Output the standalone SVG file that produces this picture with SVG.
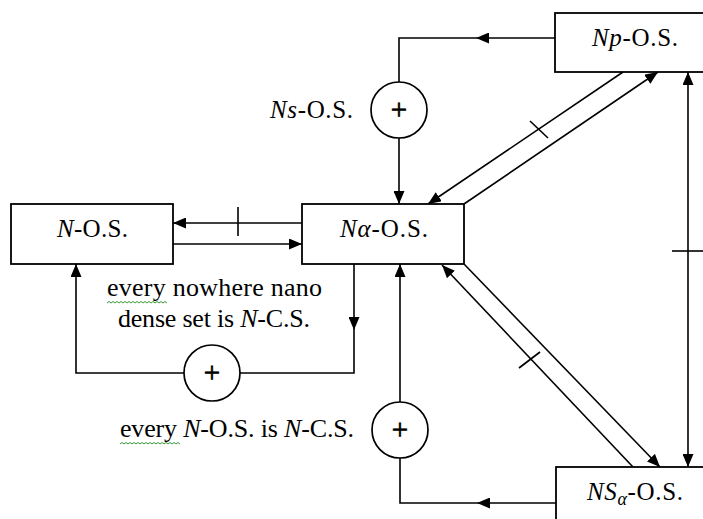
<svg xmlns="http://www.w3.org/2000/svg" width="703" height="519" viewBox="0 0 703 519">
<defs>
<marker id="ah" markerUnits="userSpaceOnUse" markerWidth="13" markerHeight="11" refX="13" refY="5.5" orient="auto">
<path d="M0,0 L13,5.5 L0,11 z" fill="#000"/>
</marker>
<style>
.box{fill:#fff;stroke:#000;stroke-width:1.8}
.ln{fill:none;stroke:#000;stroke-width:1.6}
.arr{fill:none;stroke:#000;stroke-width:1.6;marker-end:url(#ah)}
.circ{fill:#fff;stroke:#000;stroke-width:1.7}
.t{font-family:"Liberation Serif","Times New Roman",serif;font-size:25px;fill:#000}
.p{font-family:"Liberation Serif","Times New Roman",serif;font-size:26px;fill:#000}
.plus{font-family:"Liberation Serif","Times New Roman",serif;font-size:29px;fill:#000;stroke:#000;stroke-width:0.7;text-anchor:middle}
.i{font-style:italic}
.sq{fill:none;stroke:#3a9a3a;stroke-width:1}
</style>
</defs>
<rect width="703" height="519" fill="#fff"/>

<g id="connectors">
<line class="arr" x1="302" y1="223" x2="173" y2="223"/>
<line class="ln" x1="238" y1="207" x2="238" y2="236"/>
<line class="arr" x1="173" y1="244" x2="302" y2="244"/>
<line class="arr" x1="354" y1="264" x2="354" y2="330"/>
<polyline class="ln" points="354,330 354,373 240,373"/>
<polyline class="ln" points="184,373 76,373 76,300"/>
<line class="arr" x1="76" y1="300" x2="76" y2="264"/>
<line class="arr" x1="555" y1="38" x2="476" y2="38"/>
<polyline class="ln" points="476,38 399,38 399,82"/>
<line class="arr" x1="399" y1="138" x2="399" y2="204"/>
<line class="arr" x1="623" y1="72" x2="428" y2="204"/>
<line class="ln" x1="530" y1="121" x2="548" y2="138"/>
<line class="arr" x1="464" y1="204" x2="658" y2="72"/>
<line class="arr" x1="688" y1="270" x2="688" y2="72"/>
<line class="arr" x1="688" y1="270" x2="688" y2="467"/>
<line class="ln" x1="672" y1="251" x2="703" y2="251"/>
<line class="arr" x1="464" y1="264" x2="660" y2="467"/>
<line class="arr" x1="633" y1="467" x2="442" y2="265"/>
<line class="ln" x1="519" y1="368" x2="540" y2="352"/>
<line class="arr" x1="556" y1="503" x2="477" y2="503"/>
<polyline class="ln" points="477,503 400,503 400,458"/>
<line class="arr" x1="400" y1="402" x2="400" y2="264"/>
</g>

<g id="node-nos">
<rect class="box" x="11" y="204" width="162" height="60"/>
<text class="t" x="57" y="237" textLength="71" lengthAdjust="spacing"><tspan class="i">N</tspan>-O.S.</text>
</g>

<g id="node-naos">
<rect class="box" x="302" y="204" width="162" height="60"/>
<text class="t" x="340" y="237" textLength="88" lengthAdjust="spacing"><tspan class="i">Nα</tspan>-O.S.</text>
</g>

<g id="node-npos">
<rect class="box" x="555" y="13" width="160" height="59"/>
<text class="t" x="592" y="46" textLength="86" lengthAdjust="spacing"><tspan class="i">Np</tspan>-O.S.</text>
</g>

<g id="node-nsaos">
<rect class="box" x="556" y="467" width="160" height="70"/>
<text class="t" x="587" y="500" textLength="96" lengthAdjust="spacing"><tspan class="i">NS</tspan><tspan class="i" font-size="18" dy="5">α</tspan><tspan dy="-5">-O.S.</tspan></text>
</g>

<g id="circle-ns">
<circle class="circ" cx="399" cy="110" r="28"/>
<text class="plus" x="399" y="119">+</text>
<text class="t" x="270" y="118" textLength="83" lengthAdjust="spacing"><tspan class="i">Ns</tspan>-O.S.</text>
</g>

<g id="circle-nowhere">
<circle class="circ" cx="212" cy="373" r="28"/>
<text class="plus" x="212" y="382">+</text>
<text class="p" x="107" y="296" textLength="215" lengthAdjust="spacing">every nowhere nano</text>
<text class="p" x="118" y="327" textLength="192" lengthAdjust="spacing">dense set is <tspan class="i">N</tspan>-C.S.</text>
<path class="sq" d="M107,303 l2,-1.5 l2,1.5 l2,-1.5 l2,1.5 l2,-1.5 l2,1.5 l2,-1.5 l2,1.5 l2,-1.5 l2,1.5 l2,-1.5 l2,1.5 l2,-1.5 l2,1.5 l2,-1.5 l2,1.5 l2,-1.5 l2,1.5 l2,-1.5 l2,1.5 l2,-1.5 l2,1.5 l2,-1.5 l2,1.5 l2,-1.5 l2,1.5 l2,-1.5 l2,1.5 l2,-1.5 l2,1.5"/>
</g>

<g id="circle-every">
<circle class="circ" cx="400" cy="430" r="28"/>
<text class="plus" x="400" y="439">+</text>
<text class="p" x="120" y="437" textLength="234" lengthAdjust="spacing">every <tspan class="i">N</tspan>-O.S. is <tspan class="i">N</tspan>-C.S.</text>
<path class="sq" d="M120,444 l2,-1.5 l2,1.5 l2,-1.5 l2,1.5 l2,-1.5 l2,1.5 l2,-1.5 l2,1.5 l2,-1.5 l2,1.5 l2,-1.5 l2,1.5 l2,-1.5 l2,1.5 l2,-1.5 l2,1.5 l2,-1.5 l2,1.5 l2,-1.5 l2,1.5 l2,-1.5 l2,1.5 l2,-1.5 l2,1.5 l2,-1.5 l2,1.5 l2,-1.5 l2,1.5 l2,-1.5 l2,1.5"/>
</g>
</svg>
